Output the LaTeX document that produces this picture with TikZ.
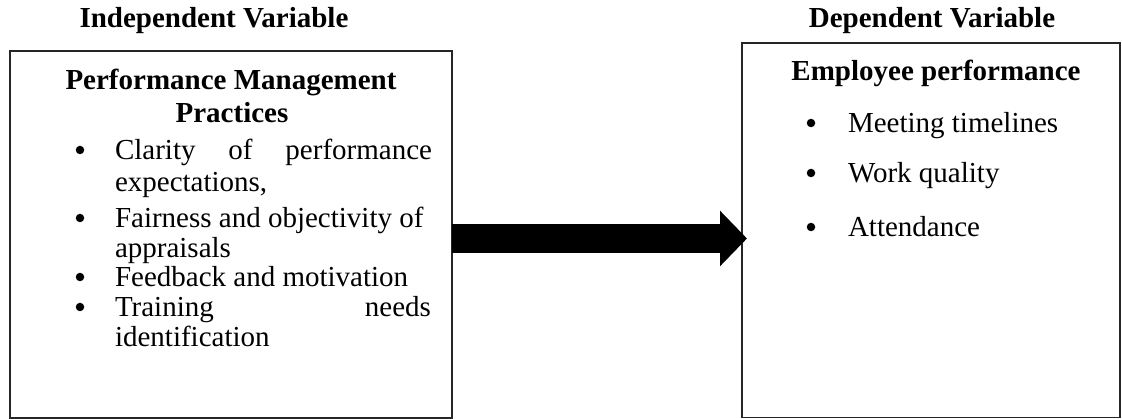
\documentclass[tikz,border=0pt]{standalone}
\usepackage{fontspec}
\setmainfont{Liberation Serif}
\usetikzlibrary{arrows.meta}
\begin{document}
\begin{tikzpicture}[x=1pt,y=-1pt,
  every node/.style={inner sep=0pt,outer sep=0pt,font=\fontsize{29}{34}\selectfont},
  box/.style={draw=black!85,line width=1.7pt,rectangle},
  head/.style={anchor=base,font=\fontsize{29}{34}\selectfont\bfseries},
  txt/.style={anchor=base west},
  bul/.style={circle,fill=black,minimum size=8.5pt},
  bigarrow/.style={line width=29pt,line cap=butt,-{Triangle[length=27pt,width=54pt]}}]
\useasboundingbox (0,0) rectangle (1122,419);
% boxes
\node[box,minimum width=442pt,minimum height=367pt] (L) at (231,234.5) {};
\node[box,minimum width=378pt,minimum height=374.5pt] (R) at (931,230.25) {};
% titles
\node[head] (tL) at (214,28) {Independent Variable};
\node[head] (tR) at (932,28) {Dependent Variable};
% left box content
\node[head] (h1) at (231,90) {Performance Management};
\node[head] (h2) at (232,123) {Practices};
\node[bul] (b1) at (80,150) {};
\node[txt] (l1) at (115,160) {\makebox[317pt][s]{Clarity of performance}};
\node[txt] (l2) at (115,192) {expectations,};
\node[bul] (b2) at (80,218) {};
\node[txt] (l3) at (115,228) {Fairness and objectivity of};
\node[txt] (l4) at (115,258) {appraisals};
\node[bul] (b3) at (80,277) {};
\node[txt] (l5) at (115,287) {Feedback and motivation};
\node[bul] (b4) at (80,307) {};
\node[txt] (l6) at (115,317) {\makebox[316pt][s]{Training needs}};
\node[txt] (l7) at (115,347) {identification};
% right box content
\node[head] (h3) at (936,81) {Employee performance};
\node[bul] (r1b) at (811,123) {};
\node[txt] (r1) at (848,133) {Meeting timelines};
\node[bul] (r2b) at (811,173) {};
\node[txt] (r2) at (848,183) {Work quality};
\node[bul] (r3b) at (811,227) {};
\node[txt] (r3) at (848,237) {Attendance};
% arrow
\coordinate (ay) at (0,238.5);
\draw[bigarrow] (L.east |- ay) -- ([xshift=5pt]R.west |- ay);
\end{tikzpicture}
\end{document}
